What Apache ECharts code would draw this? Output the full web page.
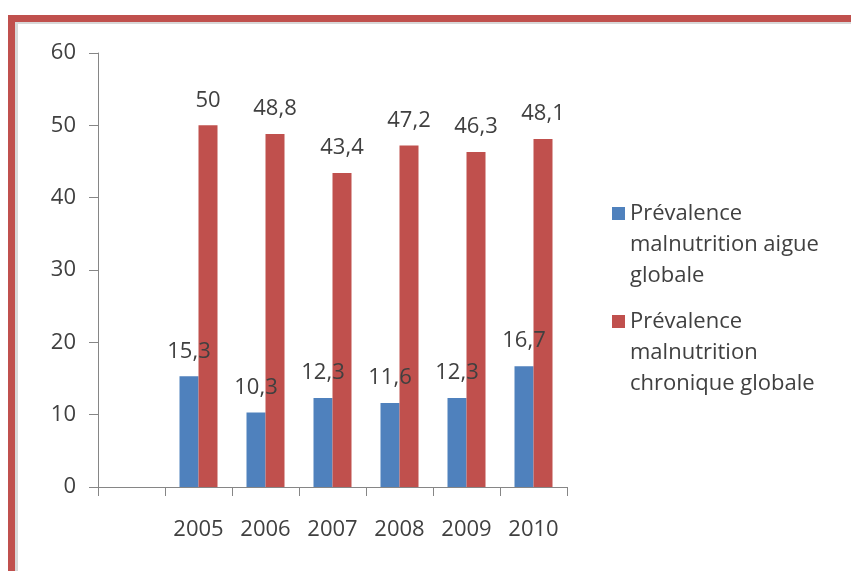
<!DOCTYPE html>
<html>
<head>
<meta charset="utf-8">
<script src="https://cdn.jsdelivr.net/npm/echarts@6/dist/echarts.min.js"></script>
<style>
html,body{margin:0;padding:0;background:#fff;}
#chart{width:851px;height:571px;}
</style>
</head>
<body>
<div id="chart"></div>
<script>
const categories = ['', '2005', '2006', '2007', '2008', '2009', '2010'];
const aigueName = 'Prévalence\nmalnutrition aigue\nglobale';
const chroniqueName = 'Prévalence\nmalnutrition\nchronique globale';
const aigueValues = [null, 15.3, 10.3, 12.3, 11.6, 12.3, 16.7];
const chroniqueValues = [null, 50, 48.8, 43.4, 47.2, 46.3, 48.1];
const yTicks = { min: 0, max: 60, interval: 10 };

const FONT = '"Open Sans", sans-serif';
const TXT = '#404040';
const FS = 22;
const chart = echarts.init(document.getElementById('chart'), null, { renderer: 'canvas' });

const fmt = p => String(p.value).replace('.', ',');
// legend icon: 13x13 square at the top of a taller icon box, so it sits beside the first text line
const legendIcon = 'path://M0,0H13V13H0Z M0,74.99H0.01V75H0Z';

chart.setOption({
  animation: false,
  backgroundColor: '#ffffff',
  graphic: [
    { type: 'rect', z: -10, shape: { x: 15, y: 21, width: 3, height: 560 }, style: { fill: '#d8d8d8' } },
    { type: 'rect', z: -10, shape: { x: 15, y: 21, width: 840, height: 3 }, style: { fill: '#d8d8d8' } },
    { type: 'rect', z: -9, shape: { x: 8, y: 15, width: 7, height: 560 }, style: { fill: '#C0504D' } },
    { type: 'rect', z: -9, shape: { x: 8, y: 15, width: 845, height: 7 }, style: { fill: '#C0504D' } }
  ],
  grid: { left: 98, right: 284, top: 53, bottom: 84, containLabel: false },
  legend: {
    orient: 'vertical',
    left: 612,
    top: 198,
    padding: 0,
    itemWidth: 13,
    itemHeight: 75,
    itemGap: 15,
    icon: legendIcon,
    selectedMode: false,
    data: [aigueName, chroniqueName],
    textStyle: { fontFamily: FONT, fontSize: FS, color: TXT, lineHeight: 31 }
  },
  xAxis: {
    type: 'category',
    data: categories,
    axisLine: { lineStyle: { color: '#868686', width: 1 } },
    axisTick: { show: true, length: 9, alignWithLabel: false, lineStyle: { color: '#868686' } },
    axisLabel: { color: TXT, fontFamily: FONT, fontSize: FS, margin: 32, interval: 0 },
    splitLine: { show: false }
  },
  yAxis: {
    type: 'value',
    min: yTicks.min, max: yTicks.max, interval: yTicks.interval,
    axisLine: { show: true, lineStyle: { color: '#868686', width: 1 } },
    axisTick: { show: true, length: 9, lineStyle: { color: '#868686' } },
    axisLabel: { color: TXT, fontFamily: FONT, fontSize: FS, margin: 22 },
    splitLine: { show: false }
  },
  series: [
    {
      name: aigueName, type: 'bar', data: aigueValues,
      barWidth: 19, barGap: '0%',
      itemStyle: { color: '#4F81BD' },
      label: { show: true, position: 'top', distance: 14, formatter: fmt,
        color: TXT, fontFamily: FONT, fontSize: FS }
    },
    {
      name: chroniqueName, type: 'bar', data: chroniqueValues,
      barWidth: 19, barGap: '0%',
      itemStyle: { color: '#C0504D' },
      label: { show: true, position: 'top', distance: 14, formatter: fmt,
        color: TXT, fontFamily: FONT, fontSize: FS }
    }
  ]
});
</script>
</body>
</html>
